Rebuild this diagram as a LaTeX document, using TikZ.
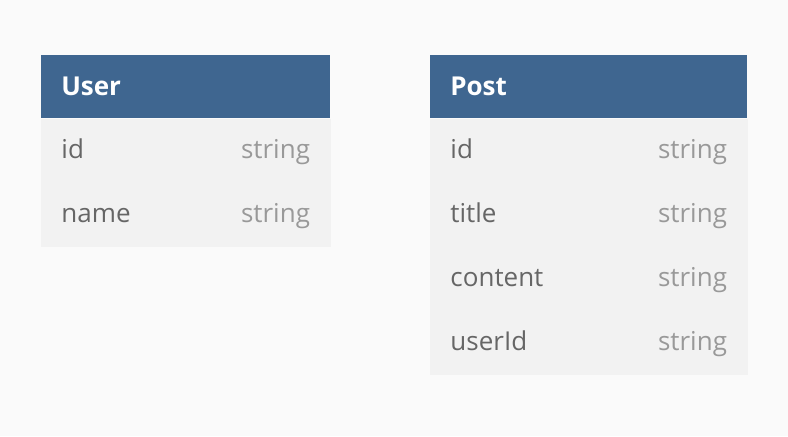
\documentclass[tikz,border=0pt]{standalone}
\usepackage{fontspec}
\setmainfont{Open Sans}
\usetikzlibrary{positioning}
\definecolor{pagebg}{HTML}{FAFAFA}
\definecolor{headblue}{HTML}{3F6690}
\definecolor{rowgray}{HTML}{F2F2F2}
\definecolor{fieldtext}{HTML}{666666}
\definecolor{typetext}{HTML}{999999}
\tikzset{
	head/.style={fill=headblue, text=white, font=\fontsize{19.5}{22}\selectfont\bfseries,
		minimum height=47.25pt, inner xsep=15pt, text height=16.5pt, text depth=4pt,
		anchor=north west, align=left},
	row/.style={fill=rowgray, draw=rowgray, line width=0.3pt, text=fieldtext,
		font=\fontsize{19.5}{22}\selectfont, minimum height=47.7pt, inner xsep=15pt,
		text height=16pt, text depth=4pt, align=left},
	typ/.style={text=typetext, font=\fontsize{19.5}{22}\selectfont, anchor=base east, inner sep=0pt}
}

\begin{document}
\begin{tikzpicture}[x=0.75pt,y=-0.75pt]
		\fill[pagebg] (0,0) rectangle (788,436);
		\useasboundingbox (0,0) rectangle (788,436);
		% User table
		\node[head, text width=186.75pt] (user) at (41,55) {User};
		\node[row, text width=186.45pt, below=0pt of user] (user-id) {id};
		\node[row, text width=186.45pt, below=0pt of user-id] (user-name) {name};
		\foreach \f in {id,name}
			\node[typ] at ([xshift=-15pt]user-\f.base -| user-\f.east) {string};
		% Post table
		\node[head, text width=207.75pt] (post) at (430,55) {Post};
		\node[row, text width=207.45pt, below=0pt of post] (post-id) {id};
		\node[row, text width=207.45pt, below=0pt of post-id] (post-title) {title};
		\node[row, text width=207.45pt, below=0pt of post-title] (post-content) {content};
		\node[row, text width=207.45pt, below=0pt of post-content] (post-userId) {userId};
		\foreach \f in {id,title,content,userId}
			\node[typ] at ([xshift=-15pt]post-\f.base -| post-\f.east) {string};
	\end{tikzpicture}
\end{document}
